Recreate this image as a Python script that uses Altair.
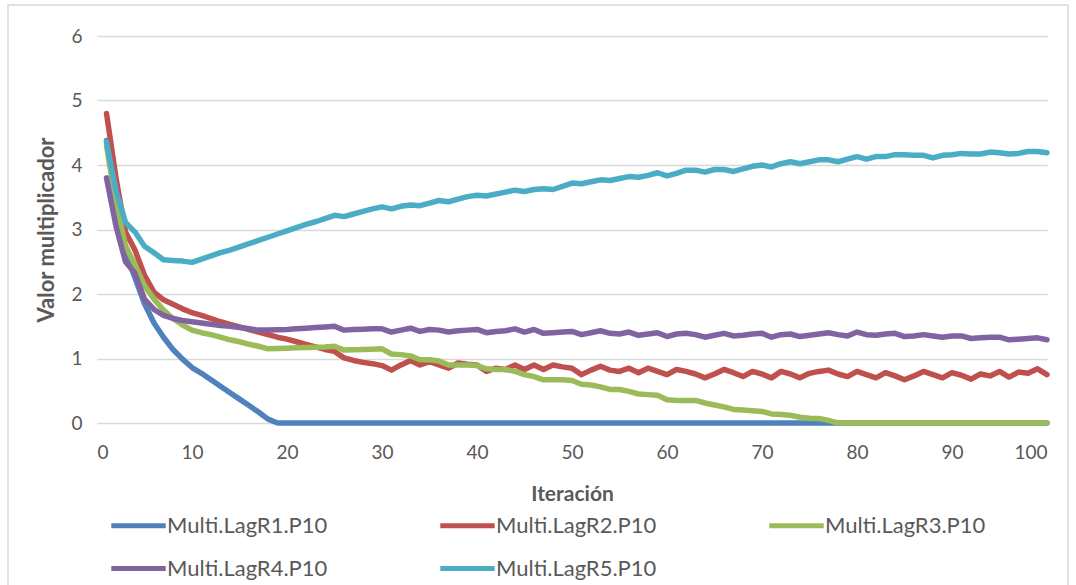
import altair as alt
import pandas as pd

iteracion = list(range(1, 101))

series_names = ["Multi.LagR1.P10", "Multi.LagR2.P10", "Multi.LagR3.P10",
                "Multi.LagR4.P10", "Multi.LagR5.P10"]
series_colors = ["#4F81BD", "#C0504D", "#9BBB59", "#8064A2", "#4BACC6"]

r1 = [4.38, 3.40, 2.65, 2.25, 1.85, 1.55, 1.33, 1.14, 0.99, 0.86,
      0.77, 0.67, 0.57, 0.47, 0.37, 0.27, 0.17, 0.06, 0.00, 0.00,
      0.00, 0.00, 0.00, 0.00, 0.00, 0.00, 0.00, 0.00, 0.00, 0.00,
      0.00, 0.00, 0.00, 0.00, 0.00, 0.00, 0.00, 0.00, 0.00, 0.00,
      0.00, 0.00, 0.00, 0.00, 0.00, 0.00, 0.00, 0.00, 0.00, 0.00,
      0.00, 0.00, 0.00, 0.00, 0.00, 0.00, 0.00, 0.00, 0.00, 0.00,
      0.00, 0.00, 0.00, 0.00, 0.00, 0.00, 0.00, 0.00, 0.00, 0.00,
      0.00, 0.00, 0.00, 0.00, 0.00, 0.00, 0.00, 0.00, 0.00, 0.00,
      0.00, 0.00, 0.00, 0.00, 0.00, 0.00, 0.00, 0.00, 0.00, 0.00,
      0.00, 0.00, 0.00, 0.00, 0.00, 0.00, 0.00, 0.00, 0.00, 0.00]

r2 = [4.80, 3.80, 2.96, 2.68, 2.29, 2.03, 1.91, 1.84, 1.77, 1.71,
      1.67, 1.62, 1.57, 1.53, 1.49, 1.45, 1.41, 1.37, 1.33, 1.30,
      1.26, 1.22, 1.18, 1.14, 1.11, 1.01, 0.97, 0.94, 0.92, 0.89,
      0.82, 0.90, 0.97, 0.90, 0.95, 0.90, 0.85, 0.93, 0.91, 0.90,
      0.80, 0.85, 0.83, 0.90, 0.83, 0.90, 0.83, 0.90, 0.87, 0.85,
      0.75, 0.82, 0.88, 0.82, 0.80, 0.85, 0.78, 0.85, 0.80, 0.75,
      0.83, 0.80, 0.76, 0.70, 0.76, 0.83, 0.78, 0.72, 0.80, 0.76,
      0.70, 0.80, 0.76, 0.70, 0.77, 0.80, 0.82, 0.76, 0.72, 0.80,
      0.75, 0.70, 0.78, 0.73, 0.67, 0.73, 0.80, 0.75, 0.70, 0.78,
      0.74, 0.68, 0.76, 0.73, 0.80, 0.71, 0.79, 0.77, 0.84, 0.75]

r3 = [4.30, 3.40, 2.75, 2.45, 2.13, 1.92, 1.75, 1.62, 1.52, 1.44,
      1.40, 1.37, 1.33, 1.29, 1.26, 1.22, 1.19, 1.15, 1.155, 1.16,
      1.165, 1.17, 1.175, 1.18, 1.19, 1.13, 1.135, 1.14, 1.145, 1.15,
      1.07, 1.06, 1.04, 0.98, 0.98, 0.96, 0.90, 0.90, 0.90, 0.89,
      0.84, 0.83, 0.83, 0.80, 0.75, 0.72, 0.67, 0.67, 0.67, 0.66,
      0.60, 0.59, 0.56, 0.52, 0.52, 0.49, 0.45, 0.44, 0.43, 0.36,
      0.35, 0.35, 0.35, 0.31, 0.28, 0.25, 0.21, 0.20, 0.19, 0.18,
      0.14, 0.13, 0.12, 0.09, 0.075, 0.07, 0.04, 0.00, 0.00, 0.00,
      0.00, 0.00, 0.00, 0.00, 0.00, 0.00, 0.00, 0.00, 0.00, 0.00,
      0.00, 0.00, 0.00, 0.00, 0.00, 0.00, 0.00, 0.00, 0.00, 0.00]

r4 = [3.80, 3.05, 2.50, 2.32, 1.92, 1.76, 1.67, 1.62, 1.59, 1.57,
      1.55, 1.53, 1.51, 1.50, 1.48, 1.46, 1.44, 1.44, 1.445, 1.45,
      1.46, 1.47, 1.48, 1.49, 1.50, 1.44, 1.45, 1.455, 1.46, 1.46,
      1.41, 1.44, 1.47, 1.42, 1.45, 1.44, 1.41, 1.43, 1.44, 1.45,
      1.40, 1.42, 1.43, 1.46, 1.41, 1.45, 1.39, 1.40, 1.41, 1.42,
      1.37, 1.40, 1.43, 1.39, 1.38, 1.41, 1.36, 1.38, 1.40, 1.34,
      1.38, 1.39, 1.37, 1.33, 1.36, 1.39, 1.35, 1.36, 1.38, 1.39,
      1.33, 1.37, 1.38, 1.34, 1.36, 1.38, 1.40, 1.37, 1.35, 1.41,
      1.37, 1.36, 1.38, 1.39, 1.34, 1.35, 1.37, 1.35, 1.33, 1.35,
      1.35, 1.31, 1.32, 1.33, 1.33, 1.29, 1.30, 1.31, 1.32, 1.29]

r5 = [4.36, 3.60, 3.11, 2.96, 2.74, 2.64, 2.53, 2.52, 2.51, 2.49,
      2.54, 2.59, 2.64, 2.68, 2.73, 2.78, 2.83, 2.88, 2.93, 2.98,
      3.03, 3.08, 3.12, 3.17, 3.22, 3.20, 3.24, 3.28, 3.32, 3.35,
      3.32, 3.36, 3.38, 3.37, 3.41, 3.45, 3.43, 3.47, 3.51, 3.53,
      3.52, 3.55, 3.58, 3.61, 3.59, 3.62, 3.63, 3.62, 3.67, 3.72,
      3.71, 3.74, 3.77, 3.76, 3.79, 3.82, 3.81, 3.84, 3.88, 3.83,
      3.87, 3.92, 3.92, 3.89, 3.93, 3.93, 3.90, 3.94, 3.98, 4.00,
      3.97, 4.02, 4.05, 4.02, 4.05, 4.08, 4.08, 4.05, 4.09, 4.13,
      4.09, 4.13, 4.13, 4.16, 4.16, 4.15, 4.15, 4.11, 4.15, 4.16,
      4.18, 4.17, 4.17, 4.20, 4.19, 4.17, 4.18, 4.21, 4.21, 4.19]

x_ticks = [0, 10, 20, 30, 40, 50, 60, 70, 80, 90, 100]
y_ticks = [0, 1, 2, 3, 4, 5, 6]

frames = []
for name, vals in zip(series_names, [r1, r2, r3, r4, r5]):
    frames.append(pd.DataFrame({"Iteracion": iteracion, "Valor": vals, "Serie": name}))
df = pd.concat(frames, ignore_index=True)

FONT = "Lato"
GREY = "#595959"

lines = alt.Chart(df).mark_line(strokeWidth=5.5, strokeJoin="round", strokeCap="round").encode(
    x=alt.X("Iteracion:Q",
            scale=alt.Scale(domain=[0, 100], nice=False),
            axis=alt.Axis(values=x_ticks, title="Iteración", grid=False, domain=False,
                          ticks=False, tickSize=0, labelPadding=20, labelFontSize=19,
                          labelColor=GREY, labelFont=FONT, titleFont=FONT,
                          titleFontSize=21, titleFontWeight="bold", titleColor=GREY,
                          titleBaseline="alphabetic", titleY=77)),
    y=alt.Y("Valor:Q",
            scale=alt.Scale(domain=[0, 6], nice=False),
            axis=alt.Axis(values=y_ticks, title="Valor multiplicador", grid=True,
                          gridColor="#D9D9D9", gridWidth=1.3, domain=False, ticks=False,
                          tickSize=0, labelPadding=15, labelFontSize=19, labelColor=GREY,
                          labelFont=FONT, titleFont=FONT, titleFontSize=22,
                          titleFontWeight="bold", titleColor=GREY, titleAngle=270,
                          titleBaseline="alphabetic", titleAlign="center",
                          titleX=-44, titleY=193.5)),
    color=alt.Color("Serie:N",
                    scale=alt.Scale(domain=series_names, range=series_colors),
                    legend=alt.Legend(orient="none", legendX=22, legendY=470,
                                      direction="horizontal",
                                      columns=3, columnPadding=102, rowPadding=12,
                                      symbolType="M-1.6,0H1.6", symbolSize=1156,
                                      symbolStrokeWidth=5, labelOffset=9,
                                      labelFontSize=22, labelFont=FONT, labelLimit=400,
                                      labelColor=GREY, title=None, padding=0)),
)

border_df = pd.DataFrame({"b": [0]})
border = alt.Chart(border_df).mark_rect(filled=False, stroke="#D9D9D9", strokeWidth=1.5,
                                        clip=False).encode(
    x=alt.value(-89), x2=alt.value(971), y=alt.value(-31), y2=alt.value(600)
)

chart = alt.layer(border, lines).properties(
    width=950, height=387,
    autosize=alt.AutoSizeParams(type="none"),
    padding={"left": 97, "top": 36, "right": 29, "bottom": 162},
    background="white",
).configure_view(strokeWidth=0)

chart.save("out.html", embed_options={"renderer": "svg", "actions": False})
